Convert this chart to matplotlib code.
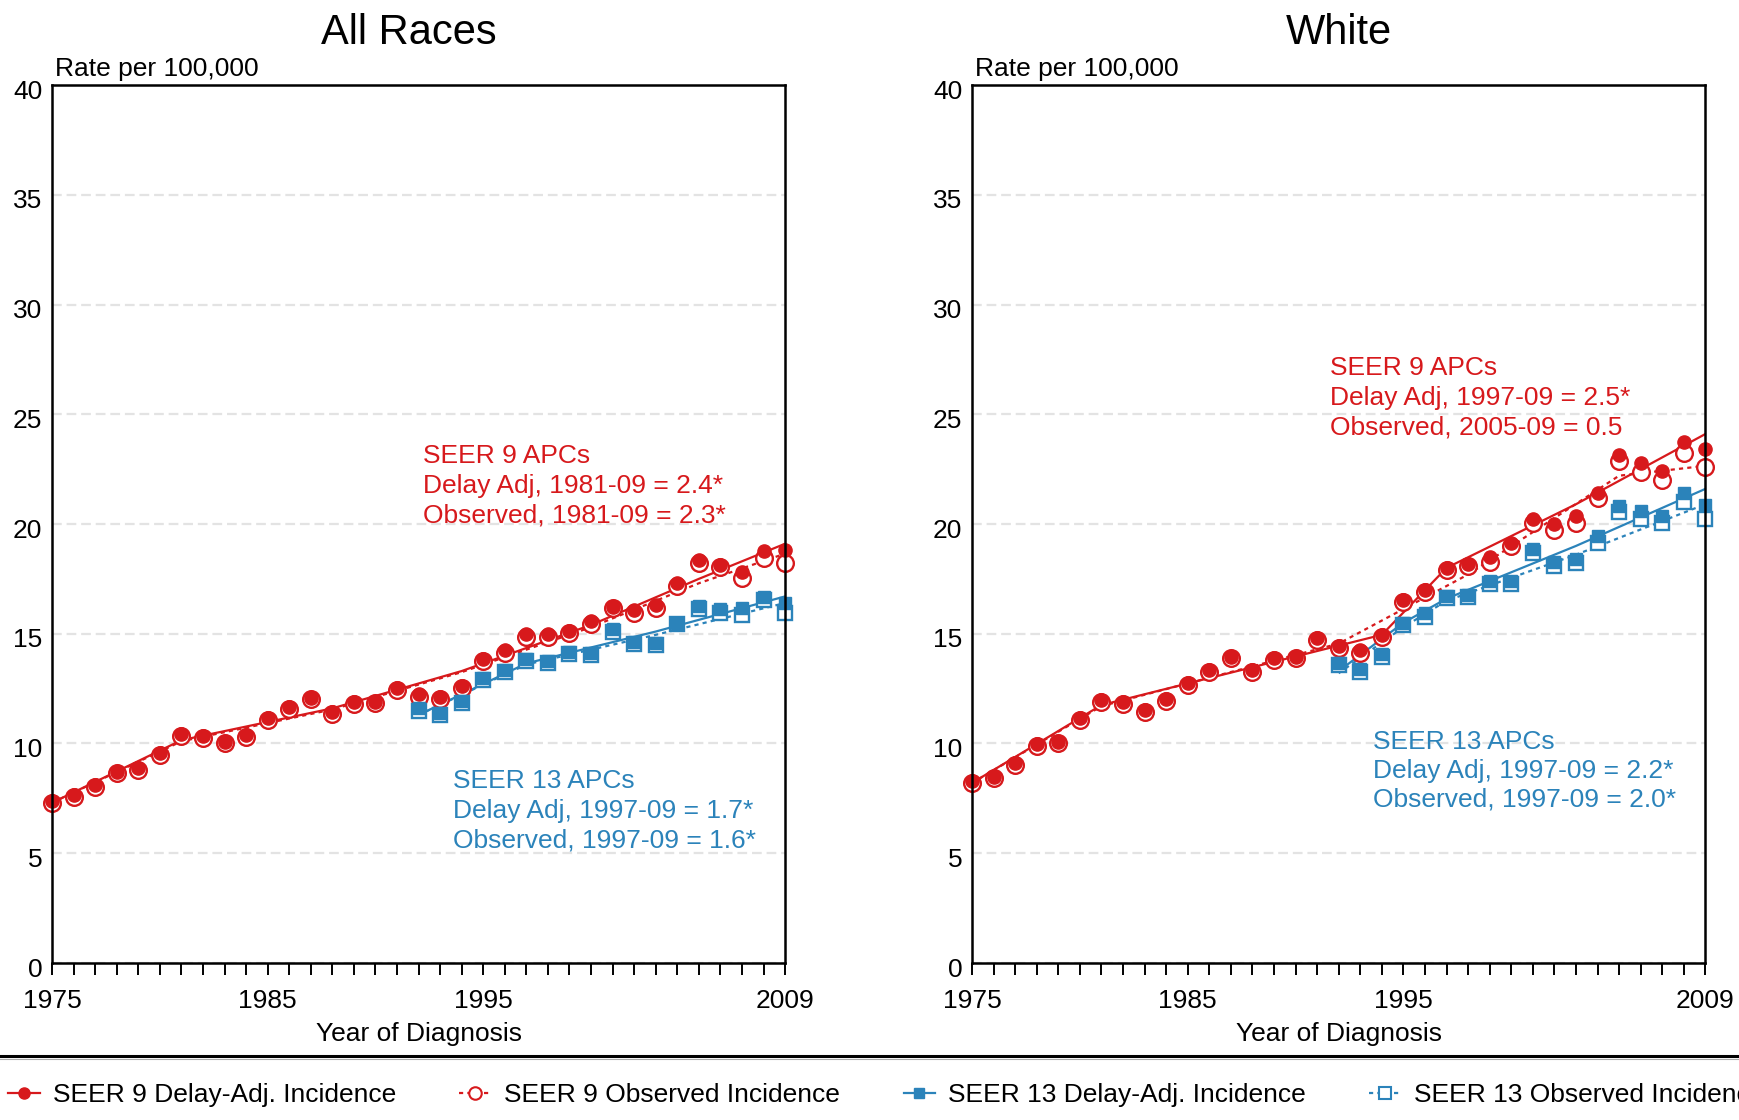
import numpy as np
import matplotlib
matplotlib.use("Agg")
import matplotlib.pyplot as plt
from matplotlib.lines import Line2D
from matplotlib.transforms import ScaledTranslation

plt.rcParams['font.family'] = ['Liberation Sans', 'DejaVu Sans']
plt.rcParams['lines.scale_dashes'] = False

RED = '#d7191c'
BLUE = '#2b83ba'

years_s9 = list(range(1975, 2010))
years_s13 = list(range(1992, 2010))

# All Races, SEER 9
all_s9_obs = [7.28, 7.58, 8.03, 8.64, 8.79, 9.48, 10.34, 10.24, 10.01, 10.31,
              11.07, 11.56, 12.01, 11.34, 11.80, 11.83, 12.44, 12.10, 12.02, 12.51,
              13.76, 14.14, 14.87, 14.87, 15.02, 15.44, 16.16, 15.93, 16.16, 17.18,
              18.24, 18.06, 17.53, 18.44, 18.21]
all_s9_adj = [7.36, 7.66, 8.11, 8.72, 8.87, 9.56, 10.42, 10.32, 10.09, 10.39,
              11.15, 11.64, 12.09, 11.42, 11.88, 11.91, 12.52, 12.24, 12.12, 12.60,
              13.86, 14.24, 14.97, 14.98, 15.13, 15.56, 16.24, 16.07, 16.30, 17.30,
              18.36, 18.13, 17.83, 18.77, 18.82]
# All Races, SEER 13
all_s13_obs = [11.49, 11.30, 11.83, 12.89, 13.27, 13.76, 13.65, 14.08, 14.03,
               15.07, 14.53, 14.49, 15.43, 16.11, 15.93, 15.85, 16.54, 15.93]
all_s13_adj = [11.60, 11.38, 11.92, 12.98, 13.36, 13.86, 13.76, 14.15, 14.12,
               15.22, 14.64, 14.60, 15.47, 16.26, 16.11, 16.16, 16.69, 16.39]

# White, SEER 9
wht_s9_obs = [8.19, 8.41, 9.02, 9.89, 10.01, 11.07, 11.90, 11.80, 11.45, 11.94,
              12.67, 13.27, 13.88, 13.27, 13.80, 13.88, 14.72, 14.37, 14.14, 14.87,
              16.46, 16.92, 17.90, 18.09, 18.28, 19.00, 20.06, 19.73, 20.03, 21.17,
              22.87, 22.38, 22.00, 23.22, 22.58]
wht_s9_adj = [8.27, 8.49, 9.10, 9.97, 10.09, 11.15, 11.98, 11.88, 11.53, 12.02,
              12.75, 13.35, 13.96, 13.35, 13.88, 13.96, 14.80, 14.46, 14.26, 14.92,
              16.54, 17.00, 17.98, 18.16, 18.51, 19.12, 20.21, 20.00, 20.36, 21.43,
              23.14, 22.79, 22.43, 23.75, 23.40]
# White, SEER 13
wht_s13_obs = [13.58, 13.27, 13.96, 15.40, 15.78, 16.62, 16.66, 17.27, 17.27,
               18.69, 18.09, 18.24, 19.15, 20.56, 20.21, 20.06, 21.02, 20.21]
wht_s13_adj = [13.68, 13.38, 14.06, 15.50, 15.93, 16.72, 16.77, 17.40, 17.40,
               18.85, 18.28, 18.39, 19.45, 20.82, 20.59, 20.36, 21.40, 20.87]

# joinpoint fits (years, values)
all_s9_adj_fit = ([1975, 1981, 1988, 1994, 2000, 2005, 2009], [7.3, 10.15, 11.6, 13.3, 15.4, 17.5, 19.1])
all_s9_obs_fit = ([1975, 1981, 1988, 1994, 2000, 2005, 2009], [7.3, 10.1, 11.55, 13.25, 15.3, 17.3, 18.65])
all_s13_adj_fit = ([1992, 1997, 2003, 2009], [11.3, 13.65, 15.1, 16.7])
all_s13_obs_fit = ([1992, 1997, 2003, 2009], [11.3, 13.6, 14.95, 16.4])
wht_s9_adj_fit = ([1975, 1981, 1994, 1997, 2003, 2009], [8.2, 11.75, 14.95, 18.0, 20.9, 24.1])
wht_s9_obs_fit = ([1975, 1981, 1992, 1998, 2005, 2009], [8.2, 11.7, 14.55, 17.7, 22.2, 22.65])
wht_s13_adj_fit = ([1992, 1995, 1997, 2003, 2009], [13.3, 15.5, 16.6, 19.0, 21.6])
wht_s13_obs_fit = ([1992, 1995, 1997, 2003, 2009], [13.2, 15.3, 16.5, 18.6, 20.9])

titles = ['All Races', 'White']
s9_notes = [['SEER 9 APCs', 'Delay Adj, 1981-09 = 2.4*', 'Observed, 1981-09 = 2.3*'],
            ['SEER 9 APCs', 'Delay Adj, 1997-09 = 2.5*', 'Observed, 2005-09 = 0.5']]
s13_notes = [['SEER 13 APCs', 'Delay Adj, 1997-09 = 1.7*', 'Observed, 1997-09 = 1.6*'],
             ['SEER 13 APCs', 'Delay Adj, 1997-09 = 2.2*', 'Observed, 1997-09 = 2.0*']]
legend_labels = ['SEER 9 Delay-Adj. Incidence', 'SEER 9 Observed Incidence',
                 'SEER 13 Delay-Adj. Incidence', 'SEER 13 Observed Incidence']
xtick_labels = {1975: '1975', 1985: '1985', 1995: '1995', 2009: '2009'}

panels = [
    dict(s9=(all_s9_adj, all_s9_obs), s13=(all_s13_adj, all_s13_obs),
         fits=(all_s9_adj_fit, all_s9_obs_fit, all_s13_adj_fit, all_s13_obs_fit),
         n9=(1992.22, 22.80, 1.367), n13=(1993.59, 7.98, 1.367)),
    dict(s9=(wht_s9_adj, wht_s9_obs), s13=(wht_s13_adj, wht_s13_obs),
         fits=(wht_s9_adj_fit, wht_s9_obs_fit, wht_s13_adj_fit, wht_s13_obs_fit),
         n9=(1991.62, 26.81, 1.367), n13=(1993.58, 9.73, 1.30)),
]

fig = plt.figure(figsize=(17.4, 11.2), dpi=100)
ax_pos = [[0.0299, 0.1402, 0.4213, 0.7839], [0.5586, 0.1402, 0.4215, 0.7839]]

FS = 19
for i, p in enumerate(panels):
    ax = fig.add_axes(ax_pos[i])
    fa9, fo9, fa13, fo13 = p['fits']
    # fitted trend lines
    ax.plot(fa9[0], fa9[1], color=RED, lw=1.6, zorder=2)
    ax.plot(fo9[0], fo9[1], color=RED, lw=1.6, ls=(0, (3, 3)), zorder=2)
    ax.plot(fa13[0], fa13[1], color=BLUE, lw=1.6, zorder=2)
    ax.plot(fo13[0], fo13[1], color=BLUE, lw=1.6, ls=(0, (3, 3)), zorder=2)
    # observed (open) then delay adjusted (filled) markers
    ax.plot(years_s9, p['s9'][1], ls='none', marker='o', ms=12, mfc='white',
            mec=RED, mew=1.7, zorder=3, clip_on=False)
    ax.plot(years_s9, p['s9'][0], ls='none', marker='o', ms=9.5, color=RED,
            zorder=4, clip_on=False)
    ax.plot(years_s13, p['s13'][1], ls='none', marker='s', ms=10.5, mfc='white',
            mec=BLUE, mew=1.7, zorder=3, clip_on=False)
    ax.plot(years_s13, p['s13'][0], ls='none', marker='s', ms=8.5, color=BLUE,
            zorder=4, clip_on=False)

    ax.set_xlim(1975, 2009)
    ax.set_ylim(0, 40)
    ax.set_yticks(range(0, 41, 5))
    ax.set_xticks(years_s9)
    ax.set_xticklabels([xtick_labels.get(y, '') for y in years_s9])
    ax.tick_params(axis='x', direction='out', length=8.5, width=1.4, pad=10, labelsize=FS)
    ax.tick_params(axis='y', length=0, pad=7, labelsize=FS)
    # y labels sit a little below their gridlines in the original
    shift = ScaledTranslation(0, -3 / 72, fig.dpi_scale_trans)
    for lab in ax.get_yticklabels():
        lab.set_transform(lab.get_transform() + shift)
    ax.grid(axis='y', color='#e3e3e3', lw=1.6, ls=(0, (7, 3.5)), zorder=0)
    for s in ax.spines.values():
        s.set_linewidth(1.8)
        s.set_zorder(5)

    ax.set_title(titles[i], fontsize=30, pad=29.5, x=0.487 if i == 0 else 0.5)
    ax.set_xlabel('Year of Diagnosis', fontsize=FS, labelpad=6.5)
    ax.text(0.004, 1.004, 'Rate per 100,000', transform=ax.transAxes,
            fontsize=FS, ha='left', va='bottom')

    x9, y9, d9 = p['n9']
    for k, line in enumerate(s9_notes[i]):
        ax.text(x9, y9 - k * d9, line, color=RED, fontsize=FS, va='baseline')
    x13, y13, d13 = p['n13']
    for k, line in enumerate(s13_notes[i]):
        ax.text(x13, y13 - k * d13, line, color=BLUE, fontsize=FS, va='baseline')

# separator above legend
fig.add_artist(Line2D([0, 1], [0.0575, 0.0575], transform=fig.transFigure,
                      color='black', lw=2.2))
fig.add_artist(Line2D([0, 1], [0.0548, 0.0548], transform=fig.transFigure,
                      color='#aaaaaa', lw=0.8))

handles = [
    Line2D([], [], color=RED, marker='o', ms=8, lw=1.6),
    Line2D([], [], color=RED, marker='o', ms=9, mfc='white', mew=1.5, lw=1.6, ls=(0, (3, 3))),
    Line2D([], [], color=BLUE, marker='s', ms=7.5, lw=1.6),
    Line2D([], [], color=BLUE, marker='s', ms=8, mfc='white', mew=1.5, lw=1.6, ls=(0, (3, 3))),
]
fig.legend(handles, legend_labels, loc='center left', bbox_to_anchor=(0.0046, 0.0222),
           ncol=4, frameon=False, fontsize=FS, borderaxespad=0, borderpad=0,
           handlelength=1.2, handletextpad=0.5, columnspacing=2.4)

fig.savefig('out.png', dpi=100)
